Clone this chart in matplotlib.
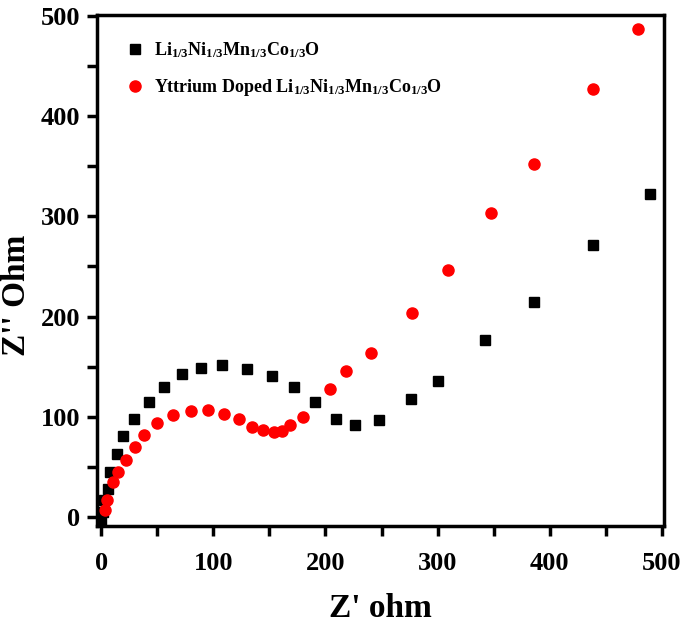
import matplotlib
matplotlib.use('Agg')
import matplotlib.pyplot as plt
from matplotlib.ticker import MultipleLocator

plt.rcParams['font.family'] = 'Liberation Serif'
plt.rcParams['font.weight'] = 'bold'
plt.rcParams['mathtext.fontset'] = 'custom'
plt.rcParams['mathtext.rm'] = 'Liberation Serif:bold'
plt.rcParams['mathtext.it'] = 'Liberation Serif:bold'
plt.rcParams['mathtext.bf'] = 'Liberation Serif:bold'

# pristine sample (black squares)
zre_pure = [0, 1, 2, 6, 8, 14, 19, 29, 42, 56, 72, 89, 108, 130, 152, 172,
            191, 209, 226, 248, 276, 300, 342, 386, 439, 490]
zim_pure = [-5, 5, 17, 28, 45, 63, 81, 98, 115, 130, 143, 149, 152, 148, 141, 130,
            115, 98, 92, 97, 118, 136, 177, 215, 271, 322]

# yttrium doped sample (red circles)
zre_doped = [3, 5, 10, 15, 22, 30, 38, 50, 64, 80, 95, 109, 123, 134, 144, 154,
             161, 168, 180, 204, 218, 241, 277, 309, 348, 386, 439, 479]
zim_doped = [7, 17, 35, 45, 57, 70, 82, 94, 102, 106, 107, 103, 98, 90, 87, 85,
             86, 92, 100, 128, 146, 164, 204, 247, 303, 352, 427, 487]

label_pure = 'Li$_{1/3}$Ni$_{1/3}$Mn$_{1/3}$Co$_{1/3}$O'
label_doped = 'Yttrium Doped Li$_{1/3}$Ni$_{1/3}$Mn$_{1/3}$Co$_{1/3}$O'

fig = plt.figure(figsize=(6.85, 6.24), dpi=100)
ax = fig.add_axes([0.1416, 0.157, 0.8274, 0.819])

ax.plot(zre_pure, zim_pure, 's', color='black', markersize=7, label=label_pure)
ax.plot(zre_doped, zim_doped, 'o', color='red', markersize=8, label=label_doped)

ax.set_xlim(-4, 502)
ax.set_ylim(-9, 501)
ax.xaxis.set_major_locator(MultipleLocator(100))
ax.xaxis.set_minor_locator(MultipleLocator(50))
ax.yaxis.set_major_locator(MultipleLocator(100))
ax.yaxis.set_minor_locator(MultipleLocator(50))

for sp in ax.spines.values():
    sp.set_linewidth(2.5)
ax.tick_params(which='both', direction='out', width=2.5, length=7, labelsize=19)
ax.tick_params(axis='x', pad=12)
ax.tick_params(axis='y', pad=5)

ax.set_xlabel("Z' ohm", fontsize=24, fontweight='bold', labelpad=13)
# y label placed in figure coords so it sits clear of the tick labels
fig.text(17 / 685, 0.526, "Z'' Ohm", fontsize=24, fontweight='bold',
         rotation=90, ha='center', va='center')

ax.legend(loc='upper left', bbox_to_anchor=(0.025, 0.975), frameon=False,
          fontsize=13, handletextpad=0.5, borderaxespad=0.3, labelspacing=0.95,
          handlelength=1.2)

fig.savefig('out.png', dpi=100)
